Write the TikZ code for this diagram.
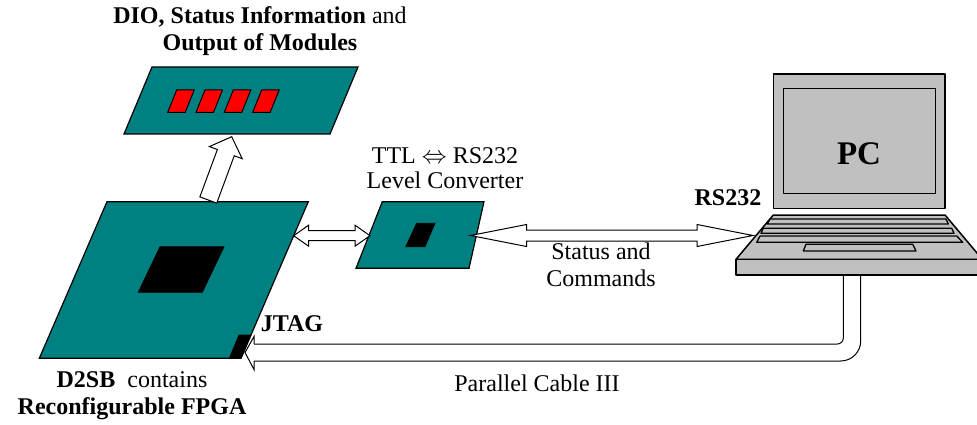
\documentclass[tikz,border=0pt]{standalone}
\usepackage{fontspec}
\setmainfont{Liberation Serif}
\usetikzlibrary{calc}
\definecolor{boardTeal}{RGB}{0,128,128}
\definecolor{ledRed}{RGB}{255,0,0}
\definecolor{pcGray}{RGB}{192,192,192}
\tikzset{
  board/.style={fill=boardTeal, draw=black, line width=1.2pt},
  chip/.style={fill=black, draw=black, line width=0.8pt},
  arrowbody/.style={fill=white, draw=black, line width=1pt, line join=miter},
  case/.style={fill=pcGray, draw=black, line width=1.5pt, line join=round}
}
\newcommand{\blockarrow}[5]{%
  \draw[arrowbody] ($(#1)!#3!90:(#2)$) -- ($(#2)!#5!(#1)!#3!-90:(#1)$)
    -- ($(#2)!#5!(#1)!#4!-90:(#1)$) -- (#2) -- ($(#2)!#5!(#1)!#4!90:(#1)$)
    -- ($(#2)!#5!(#1)!#3!90:(#1)$) -- ($(#1)!#3!-90:(#2)$) -- cycle;}
\newcommand{\dblockarrow}[5]{%
  \draw[arrowbody] (#1) -- ($(#1)!#5!(#2)!#4!90:(#2)$) -- ($(#1)!#5!(#2)!#3!90:(#2)$)
    -- ($(#2)!#5!(#1)!#3!-90:(#1)$) -- ($(#2)!#5!(#1)!#4!-90:(#1)$) -- (#2)
    -- ($(#2)!#5!(#1)!#4!90:(#1)$) -- ($(#2)!#5!(#1)!#3!90:(#1)$)
    -- ($(#1)!#5!(#2)!#3!-90:(#2)$) -- ($(#1)!#5!(#2)!#4!-90:(#2)$) -- cycle;}

\begin{document}
\begin{tikzpicture}[x=1pt, y=-1pt, font=\fontsize{24}{27}\selectfont]
  \useasboundingbox[fill=white] (0,0) rectangle (977,425);

  \draw[board] (152,67) -- (358,67) -- (330,134) -- (124,134) -- cycle;
  \foreach \x in {176.7,205,233.3,261.7}
    \draw[fill=ledRed, draw=black, line width=1pt] (\x,90) -- (\x+17.5,90) -- (\x+8.5,112.3) -- (\x-9,112.3) -- cycle;

  \draw[board] (107,201.7) -- (308.3,201.7) -- (241,358.3) -- (39.3,358.3) -- cycle;
  \draw[chip] (160,246.7) -- (224,246.7) -- (202.3,292.3) -- (138.3,292.3) -- cycle;
  \draw[chip] (239,335) -- (250.8,335) -- (241,358.3) -- (229.3,358.3) -- cycle;

  \draw[board] (382.3,201.7) -- (484,201.7) -- (469,268.3) -- (356,268.3) -- cycle;
  \draw[chip] (416.7,223.3) -- (435,223.3) -- (425,246.7) -- (405.7,246.7) -- cycle;

  \draw[case] (773.3,74) rectangle (945,208.3);
  \draw[case] (783.3,88.3) rectangle (935.7,193.3);
  \draw[case] (773.3,215) -- (945,215) -- (982.3,259.3) -- (736,259.3) -- cycle;
  \draw[case] (736,259.3) rectangle (982.3,275);
  \draw[case, line width=1.3pt] (770,219) -- (946,219) -- (948.3,224) -- (767.3,224) -- cycle;
  \draw[case, line width=1.3pt] (763.3,228.3) -- (951.7,228.3) -- (954,233.3) -- (761,233.3) -- cycle;
  \draw[case, line width=1.3pt] (760,236) -- (956.7,236) -- (962.7,242.3) -- (756.7,242.3) -- cycle;
  \draw[case, line width=1.3pt] (806,244.3) -- (912.7,244.3) -- (916,251) -- (803.3,251) -- cycle;

  \coordinate (upfrom) at (208.3,200);
  \coordinate (upto) at (231.7,136.7);
  \coordinate (linkL) at (293.6,235.7);
  \coordinate (linkR) at (370,235.7);
  \coordinate (serialL) at (470.5,235.5);
  \coordinate (serialR) at (753,235.5);
  \coordinate (jtag) at (245,352.5);
  \coordinate (pcport) at (852,275);

  \blockarrow{upfrom}{upto}{9pt}{17.5pt}{17pt}
  \dblockarrow{linkL}{linkR}{5pt}{10.5pt}{15pt}
  \dblockarrow{serialL}{serialR}{5.5pt}{11pt}{56pt}

  \draw[line width=1pt, rounded corners=6] ($(pcport)+(-8.7,0)$) |- ($(jtag)+(9,-8.5)$);
  \draw[line width=1pt, rounded corners=20] ($(pcport)+(8.7,0)$) |- ($(jtag)+(9,8.5)$);
  \draw[line width=1pt] ($(jtag)+(9,-8.5)$) -- ($(jtag)+(9,-16)$) -- (jtag) -- ($(jtag)+(9,17)$) -- ($(jtag)+(9,8.5)$);

  \node[align=center] (dio) at (260,31) {\textbf{DIO, Status Information} and\\\textbf{Output of Modules}};
  \node[align=center, font=\fontsize{24}{25}\selectfont] (conv) at (445,168) {TTL $\Leftrightarrow$ RS232\\Level Converter};
  \node (rs) at (728,198) {\textbf{RS232}};
  \node (pc) at (859,154) {\fontsize{33}{36}\selectfont\textbf{PC}};
  \node[align=center] (status) at (601,265) {Status and\\Commands};
  \node (jtaglbl) at (292,324) {\textbf{JTAG}};
  \node (cable) at (537,383) {Parallel Cable III};
  \node[align=center] (d2sb) at (132,396) {\textbf{D2SB}~ contains\\\textbf{Reconfigurable FPGA}};
\end{tikzpicture}
\end{document}
